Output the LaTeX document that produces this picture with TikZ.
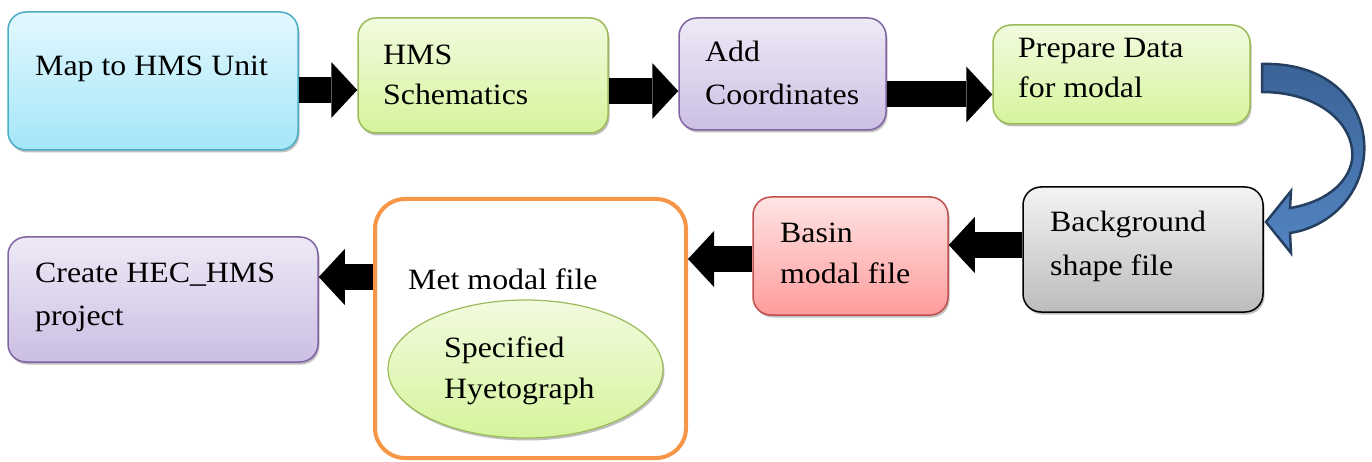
\documentclass[tikz,border=0pt]{standalone}
\usepackage{fontspec}
\setmainfont{Liberation Serif}[FakeStretch=1.08]
\usetikzlibrary{arrows.meta,shadows,shapes.geometric}
\definecolor{cyanB}{HTML}{4BACC6}
\definecolor{cyanT}{HTML}{E3F8FE}
\definecolor{cyanD}{HTML}{A4E6F8}
\definecolor{grnB}{HTML}{9BBB59}
\definecolor{grnT}{HTML}{F2FBDF}
\definecolor{grnD}{HTML}{D5F49C}
\definecolor{purB}{HTML}{8064A2}
\definecolor{purT}{HTML}{EEE9F6}
\definecolor{purD}{HTML}{CBBFE3}
\definecolor{gryT}{HTML}{F3F3F3}
\definecolor{gryD}{HTML}{BCBCBC}
\definecolor{redB}{HTML}{C0504D}
\definecolor{redT}{HTML}{FFE4E4}
\definecolor{redD}{HTML}{FF9C9C}
\definecolor{orgB}{HTML}{F79646}
\definecolor{bluB}{HTML}{243F60}
\definecolor{bluT}{HTML}{3A6396}
\definecolor{bluD}{HTML}{5384C2}
\begin{document}
\begin{tikzpicture}[x=1pt,y=-1pt,
  shad/.style={drop shadow={shadow xshift=1.5pt,shadow yshift=-2.5pt,fill=black!45,opacity=.55}},
  box/.style={rectangle, rounded corners=18pt, line width=1.5pt, inner sep=0pt, shad},
  cyanbox/.style={box, draw=cyanB, top color=cyanT, bottom color=cyanD},
  grnbox/.style={box, draw=grnB, top color=grnT, bottom color=grnD},
  purbox/.style={box, draw=purB, top color=purT, bottom color=purD},
  grybox/.style={box, draw=black, top color=gryT, bottom color=gryD},
  redbox/.style={box, draw=redB, top color=redT, bottom color=redD},
  orgbox/.style={rectangle, rounded corners=30pt, line width=4pt, draw=orgB, fill=white, inner sep=0pt},
  ellbox/.style={ellipse, line width=1.2pt, draw=grnB, top color=grnT, bottom color=grnD, inner sep=0pt, shad},
  txt/.style={anchor=base west, inner sep=0pt, font=\fontsize{29.5}{36}\selectfont},
  blk/.style={line width=26pt, draw=black, -{Triangle[length=26pt,width=56pt,line width=0pt]}}
]
\useasboundingbox (0,0) rectangle (1372,462);

% boxes
\node[cyanbox, minimum width=290pt, minimum height=138pt] (b1) at (153,81) {};
\node[grnbox,  minimum width=250pt, minimum height=115pt] (b2) at (483,75.5) {};
\node[purbox,  minimum width=207pt, minimum height=112pt] (b3) at (782.5,74) {};
\node[grnbox,  minimum width=257pt, minimum height=99pt]  (b4) at (1121.5,74.5) {};
\node[grybox,  minimum width=240pt, minimum height=125pt] (b5) at (1143,249.5) {};
\node[redbox,  minimum width=195pt, minimum height=118pt] (b6) at (850.5,256) {};
\node[orgbox,  minimum width=311pt, minimum height=259pt] (b7) at (530.5,328.5) {};
\node[ellbox,  minimum width=275pt, minimum height=138pt] (el) at (525.5,369) {};
\node[purbox,  minimum width=310pt, minimum height=125pt] (b8) at (163,299.5) {};

% texts
\node[txt] (t1)  at (35,76)    {Map to HMS Unit};
\node[txt] (t2a) at (383,65)   {HMS};
\node[txt] (t2b) at (383,105)  {Schematics};
\node[txt] (t3a) at (705,62)   {Add};
\node[txt] (t3b) at (705,105)  {Coordinates};
\node[txt] (t4a) at (1018,58)  {Prepare Data};
\node[txt] (t4b) at (1018,98)  {for modal};
\node[txt] (t5a) at (1050,232) {Background};
\node[txt] (t5b) at (1050,275) {shape file};
\node[txt] (t6a) at (780,243)  {Basin};
\node[txt] (t6b) at (780,283)  {modal file};
\node[txt] (t7)  at (408,289)  {Met modal file};
\node[txt] (tea) at (444,357)  {Specified};
\node[txt] (teb) at (444,398)  {Hyetograph};
\node[txt] (t8a) at (35,282)   {Create HEC\_HMS};
\node[txt] (t8b) at (35,325)   {project};

% block arrows
\coordinate (y1) at (0,90);
\coordinate (y2) at (0,91);
\coordinate (y3) at (0,94.5);
\coordinate (y4) at (0,245);
\coordinate (y5) at (0,259);
\coordinate (y6) at (0,277);
\draw[blk] (b1.east |- y1) -- (b2.west |- y1);
\draw[blk] (b2.east |- y2) -- (b3.west |- y2);
\draw[blk] (b3.east |- y3) -- (b4.west |- y3);
\draw[blk] (b5.west |- y4) -- (b6.east |- y4);
\draw[blk] (b6.west |- y5) -- (b7.east |- y5);
\draw[blk] (b7.west |- y6) -- (b8.east |- y6);

% curved arrow from b4 to b5
\draw[line width=2.5pt, draw=bluB, top color=bluT, bottom color=bluD, line join=miter]
  (1262,64) .. controls (1330,62) and (1368,105) .. (1364,155)
  .. controls (1360,200) and (1325,228) .. (1290,233)
  -- (1291,253) -- (1266,222) -- (1291,191) -- (1290,208)
  .. controls (1322,203) and (1348,185) .. (1352,160)
  .. controls (1356,125) and (1320,92) .. (1262,92) -- cycle;
\end{tikzpicture}
\end{document}
